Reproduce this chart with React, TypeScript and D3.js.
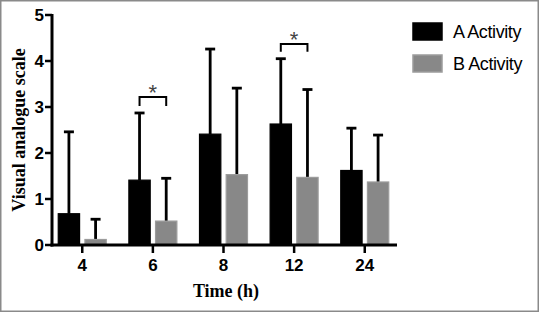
import React from "react";
import * as d3 from "d3";

const categories = ["4", "6", "8", "12", "24"];
const seriesNames = ["A Activity", "B Activity"];
const meanA = [0.68, 1.41, 2.41, 2.63, 1.62];
const errA = [2.46, 2.87, 4.26, 4.05, 2.54];
const meanB = [0.12, 0.52, 1.53, 1.47, 1.37];
const errB = [0.56, 1.45, 3.41, 3.38, 2.39];
const yTicks = [0, 1, 2, 3, 4, 5];
const sigCategories = ["6", "12"];
const sigTop = [3.22, 4.37];
const sigLeg = [3.02, 4.2];

const W = 539;
const H = 312;

export default function App() {
  const x = d3.scalePoint<string>().domain(categories).range([54, 393]).padding(0.4);
  const sub = d3.scaleBand<string>().domain(["A", "B"]).range([-24, 24]).paddingInner(0.2);
  const y = d3.scaleLinear().domain([0, 5]).range([245, 15]);
  const bw = sub.bandwidth();
  const capHalf = 5;

  const series = [
    { key: "A", mean: meanA, err: errA, fill: "#000000", stroke: "#000000" },
    { key: "B", mean: meanB, err: errB, fill: "#888888", stroke: "#9c9c9c" },
  ];

  return (
    <svg
      width={W}
      height={H}
      style={{ position: "absolute", left: 0, top: 0, background: "#fff" }}
    >
      <rect x={0.75} y={0.75} width={W - 1.5} height={H - 1.5} fill="#fff" stroke="#8a8a8a" strokeWidth={1.5} />

      {series.map((s) =>
        categories.map((c, i) => {
          const cx = (x(c) as number) + (sub(s.key) as number) + bw / 2;
          return (
            <g key={s.key + c + "e"} stroke="#000" strokeWidth={2.8}>
              <line x1={cx} x2={cx} y1={y(s.mean[i])} y2={y(s.err[i])} />
              <line x1={cx - capHalf} x2={cx + capHalf} y1={y(s.err[i])} y2={y(s.err[i])} />
            </g>
          );
        })
      )}

      {series.map((s) =>
        categories.map((c, i) => {
          const bx = (x(c) as number) + (sub(s.key) as number);
          return (
            <rect
              key={s.key + c}
              x={bx}
              y={y(s.mean[i])}
              width={bw}
              height={y(0) - y(s.mean[i])}
              fill={s.fill}
              stroke={s.stroke}
              strokeWidth={1.2}
            />
          );
        })
      )}

      <line x1={52} x2={52} y1={y(5) - 1} y2={y(0) + 1.5} stroke="#000" strokeWidth={3} />
      {yTicks.map((t) => (
        <g key={"yt" + t}>
          <line x1={45} x2={52} y1={y(t)} y2={y(t)} stroke="#000" strokeWidth={2.5} />
          <text
            x={44}
            y={y(t)}
            dy="0.36em"
            textAnchor="end"
            fontFamily="Liberation Sans, Arial, sans-serif"
            fontWeight="bold"
            fontSize={17}
          >
            {t}
          </text>
        </g>
      ))}

      <line x1={50.5} x2={397} y1={y(0)} y2={y(0)} stroke="#000" strokeWidth={3} />
      {categories.map((c) => (
        <g key={"xt" + c}>
          <line x1={x(c)} x2={x(c)} y1={y(0)} y2={253} stroke="#000" strokeWidth={2.5} />
          <text
            x={x(c)}
            y={271}
            textAnchor="middle"
            fontFamily="Liberation Sans, Arial, sans-serif"
            fontWeight="bold"
            fontSize={17}
          >
            {c}
          </text>
        </g>
      ))}

      {sigCategories.map((cat, i) => {
        const xa = (x(cat) as number) + (sub("A") as number) + bw / 2;
        const xb = (x(cat) as number) + (sub("B") as number) + bw / 2;
        const cx = (xa + xb) / 2;
        return (
          <g key={"sig" + cat}>
            <path
              d={`M${xa},${y(sigLeg[i])}V${y(sigTop[i])}H${xb}V${y(sigLeg[i])}`}
              fill="none"
              stroke="#000"
              strokeWidth={2}
            />
            <text
              x={cx}
              y={y(sigTop[i]) + 3}
              textAnchor="middle"
              fontFamily="Liberation Sans, Arial, sans-serif"
              fontSize={22}
              fill="#444"
            >
              *
            </text>
          </g>
        );
      })}

      <text
        transform={`translate(25,130) rotate(-90)`}
        textAnchor="middle"
        fontFamily="Liberation Serif, Times New Roman, serif"
        fontWeight="bold"
        fontSize={18}
      >
        Visual analogue scale
      </text>
      <text
        x={226}
        y={297}
        textAnchor="middle"
        fontFamily="Liberation Serif, Times New Roman, serif"
        fontWeight="bold"
        fontSize={18}
      >
        Time (h)
      </text>

      {seriesNames.map((n, i) => (
        <g key={"lg" + n} transform={`translate(413,${23 + i * 32})`}>
          <rect
            x={0}
            y={0}
            width={29}
            height={17}
            fill={series[i].fill}
            stroke={series[i].stroke}
            strokeWidth={1.5}
          />
          <text
            x={40}
            y={15}
            fontFamily="Liberation Sans, Arial, sans-serif"
            fontSize={18}
            letterSpacing={-0.4}
          >
            {n}
          </text>
        </g>
      ))}
    </svg>
  );
}
